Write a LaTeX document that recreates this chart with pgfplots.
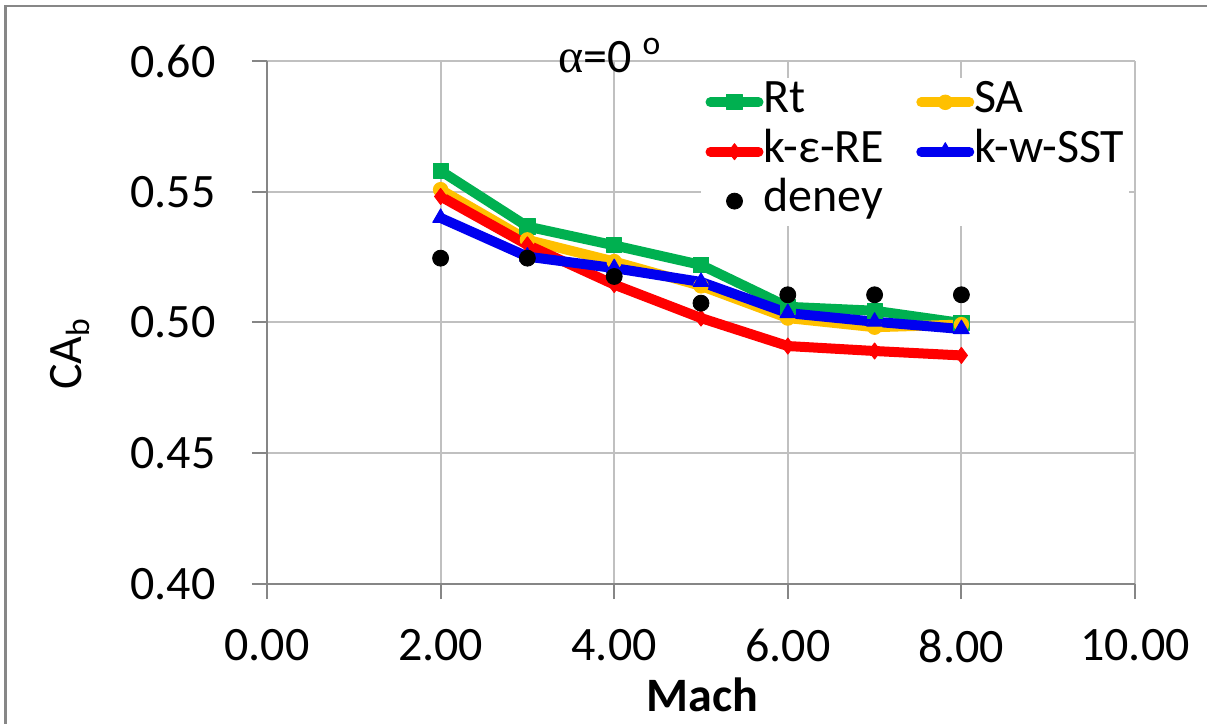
\documentclass[border=0pt]{standalone}
\usepackage{fontspec}
\setmainfont{Carlito}
\newfontfamily\serifgreek{Liberation Serif}
\usepackage{pgfplots}
\pgfplotsset{compat=1.18}
\definecolor{cgreen}{HTML}{00B050}
\definecolor{cyellow}{HTML}{FFC000}
\definecolor{cred}{HTML}{FF0000}
\definecolor{cblue}{HTML}{0000F0}
\definecolor{gridgray}{HTML}{C0C0C0}
\definecolor{axgray}{HTML}{868686}
\definecolor{framegray}{HTML}{878787}
\pgfplotsset{myleg/.style={legend image code/.code={%
  \draw[##1, line cap=round, line join=round, mark repeat=2, mark phase=2] plot coordinates {(0pt,0pt) (12pt,0pt) (24pt,0pt)};}}}
\begin{document}
\begin{tikzpicture}
\useasboundingbox (0,0) rectangle (603.5pt,362pt);
\draw[framegray, line width=1.2pt] (2.75pt,0pt) -- (2.75pt,359pt) -- (603.5pt,359pt);
\begin{axis}[
  at={(133.5pt,70pt)}, anchor=south west,
  scale only axis, width=434pt, height=261.5pt,
  xmin=0, xmax=10, ymin=0.4, ymax=0.6,
  xtick={0,2,4,6,8,10}, ytick={0.4,0.45,0.5,0.55,0.6},
  axis x line*=bottom, axis y line*=left,
  axis line style={-, draw=axgray, line width=1pt},
  grid=major, grid style={gridgray, line width=1pt},
  tick align=outside, major tick length=7.5pt,
  tick style={axgray, line width=1pt},
  clip=false,
  /pgf/number format/assume math mode=true,
  xticklabel style={/pgf/number format/.cd, fixed, fixed zerofill, precision=2, /tikz/.cd, font=\fontsize{24}{28}\selectfont, anchor=north, inner sep=0pt, yshift=-15pt},
  yticklabel style={/pgf/number format/.cd, fixed, fixed zerofill, precision=2, /tikz/.cd, font=\fontsize{24}{28}\selectfont, anchor=east, inner sep=0pt, xshift=-18pt},
  xlabel={Mach},
  xlabel style={at={(axis description cs:0.502,-0.212)}, anchor=center, font=\bfseries\fontsize{24}{28}\selectfont},
  ylabel={CA\textsubscript{b}},
  ylabel style={at={(axis description cs:-0.227,0.44)}, anchor=center, font=\fontsize{24}{28}\selectfont},
  legend columns=2, legend cell align=left,
  legend style={at={(0.499,0.969)}, anchor=north west, draw=none, fill=white,
    inner xsep=2.5pt, inner ysep=0pt, row sep=0pt,
    font=\fontsize{24}{28}\selectfont,
    nodes={inner sep=0pt, text height=17.5pt, text depth=7.2pt},
    /tikz/every even column/.append style={column sep=16pt}},
]
\addplot[cgreen, line width=5pt, line join=round, mark=square*, mark size=3.8pt, mark options={line width=0.5pt}, myleg]
  coordinates {(2,0.558)(3,0.5367)(4,0.5295)(5,0.522)(6,0.506)(7,0.5045)(8,0.4998)};
\addlegendentry{Rt}
\addplot[cyellow, line width=5pt, line join=round, mark=*, mark size=3.6pt, mark options={line width=0.5pt}, myleg]
  coordinates {(2,0.5508)(3,0.5316)(4,0.5233)(5,0.514)(6,0.5017)(7,0.4982)(8,0.4992)};
\addlegendentry{SA}
\addplot[cred, line width=5pt, line join=round, mark=diamond*, mark size=4pt, mark options={line width=0.5pt}, myleg]
  coordinates {(2,0.5482)(3,0.5297)(4,0.5145)(5,0.5017)(6,0.4910)(7,0.4891)(8,0.4874)};
\addlegendentry{k-ε-RE}
\addplot[cblue, line width=5pt, line join=round, mark=triangle*, mark size=4.5pt, mark options={line width=0.5pt}, myleg]
  coordinates {(2,0.5400)(3,0.5252)(4,0.5208)(5,0.5155)(6,0.5036)(7,0.5003)(8,0.4975)};
\addlegendentry{k-w-SST}
\addplot[only marks, black, mark=*, mark size=4pt, myleg]
  coordinates {(2,0.5246)(3,0.5246)(4,0.5176)(5,0.5074)(6,0.5106)(7,0.5106)(8,0.5106)};
\addlegendentry{deney}
\node[font=\fontsize{24}{28}\selectfont, anchor=base] at (axis cs:3.95,0.5955) {{\serifgreek α}=0 \textsuperscript{o}};
\end{axis}
\end{tikzpicture}
\end{document}
